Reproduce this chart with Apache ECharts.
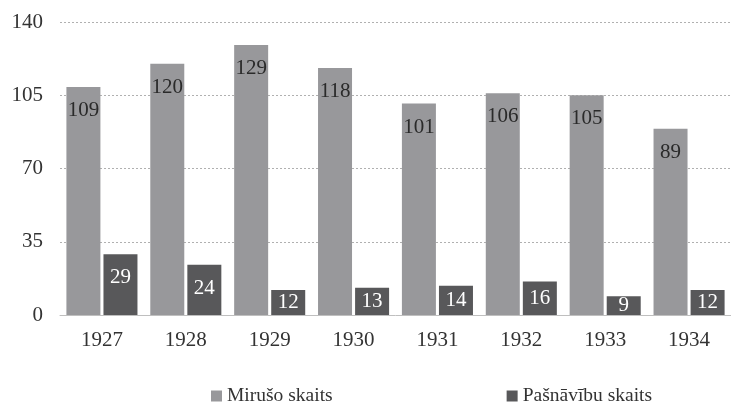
<!DOCTYPE html>
<html><head><meta charset="utf-8">
<script src="https://cdn.jsdelivr.net/npm/echarts@6/dist/echarts.min.js"></script>
<style>html,body{margin:0;padding:0;background:#fff}#c{width:731px;height:404px}</style>
</head><body><div id="c"></div>
<script>
const years = ['1927','1928','1929','1930','1931','1932','1933','1934'];
const deaths = [109,120,129,118,101,106,105,89];
const suicides = [29,24,12,13,14,16,9,12];
const seriesNames = ['Mirušo skaits','Pašnāvību skaits'];
const yTicks = [0,35,70,105,140];

const FONT = 'Liberation Serif';
function items(arr){
  return arr.map(v => v < 20
    ? {value: v, label: {position: 'inside', distance: 0}}
    : {value: v});
}
const chart = echarts.init(document.getElementById('c'));
chart.setOption({
  animation: false,
  textStyle: {fontFamily: FONT},
  grid: {left: 60, right: 0, top: 22, bottom: 89},
  legend: {
    data: seriesNames, left: 211, top: 386, itemWidth: 11, itemHeight: 11, itemGap: 174,
    icon: 'rect', padding: 0,
    textStyle: {fontFamily: FONT, fontSize: 19.5, color: '#333333'}
  },
  xAxis: {
    type: 'category', data: years,
    axisLine: {lineStyle: {color: '#bfbfbf', width: 1}},
    axisTick: {show: false},
    axisLabel: {fontFamily: FONT, fontSize: 21, color: '#333', margin: 15}
  },
  yAxis: {
    type: 'value', min: yTicks[0], max: yTicks[yTicks.length-1], interval: 35,
    axisLine: {show: false}, axisTick: {show: false},
    axisLabel: {fontFamily: FONT, fontSize: 21, color: '#333', margin: 17},
    splitLine: {lineStyle: {color: '#b0b0b0', type: [2,2], width: 1}}
  },
  series: [
    {
      name: seriesNames[0], type: 'bar', data: items(deaths), barWidth: 34, barGap: '9%',
      itemStyle: {color: '#98989b'},
      label: {show: true, position: 'insideTop', distance: 13, fontFamily: FONT, fontSize: 21, color: '#2a2a2a'}
    },
    {
      name: seriesNames[1], type: 'bar', data: items(suicides), barWidth: 34,
      itemStyle: {color: '#58585a'},
      label: {show: true, position: 'insideTop', distance: 13, fontFamily: FONT, fontSize: 21, color: '#ffffff'}
    }
  ]
});
</script></body></html>
